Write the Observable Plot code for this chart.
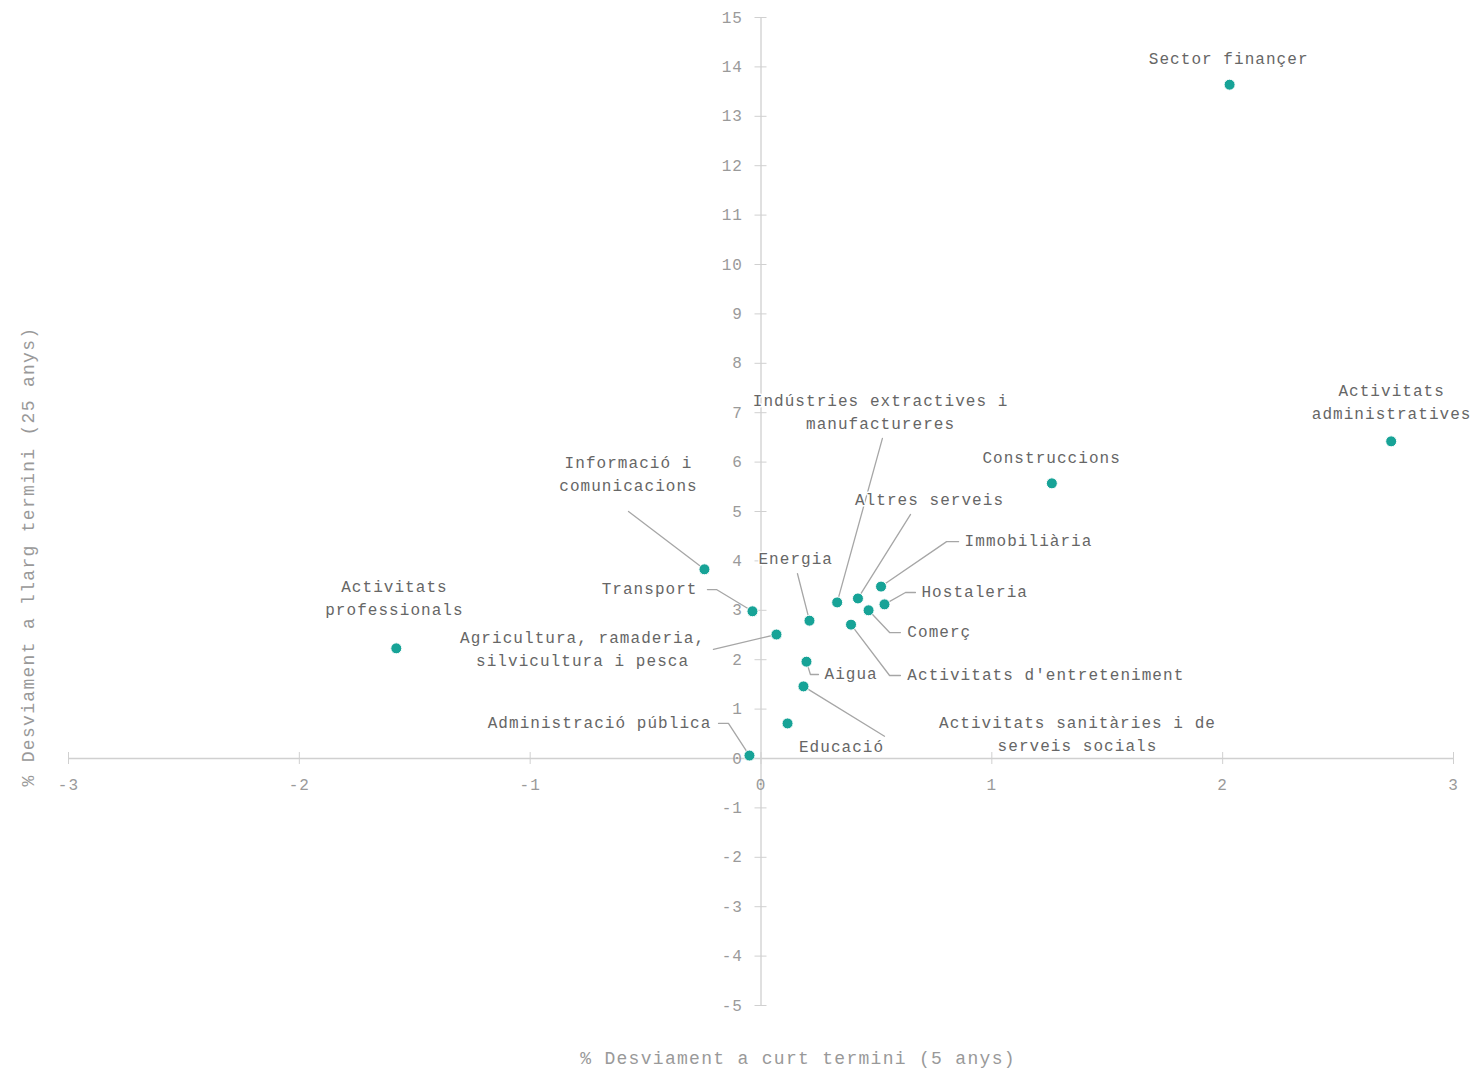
<!DOCTYPE html>
<html><head><meta charset="utf-8">
<script src="https://cdn.jsdelivr.net/npm/d3@7"></script>
<script src="https://cdn.jsdelivr.net/npm/@observablehq/plot@0.6"></script>
<style>
body{margin:0;background:#fff}
#chart{width:1476px;height:1073px}
#chart svg text{letter-spacing:1.05px}
#chart svg g.titles text{letter-spacing:1.3px}
</style>
</head><body><div id="chart"></div>
<script>
// ---- data ----
const sectors = [
  "Sector finançer", "Activitats administratives", "Construccions",
  "Informació i comunicacions", "Activitats professionals", "Transport",
  "Agricultura, ramaderia, silvicultura i pesca", "Energia",
  "Indústries extractives i manufactureres", "Altres serveis", "Immobiliària",
  "Hostaleria", "Comerç", "Activitats d'entreteniment", "Aigua",
  "Activitats sanitàries i de serveis socials", "Educació", "Administració pública"
];
const shortTerm = [2.03, 2.73, 1.26, -0.245, -1.58, -0.037, 0.067, 0.21, 0.33, 0.42, 0.52, 0.535, 0.466, 0.39, 0.197, 0.184, 0.115, -0.05];
const longTerm  = [13.64, 6.42, 5.57, 3.83, 2.23, 2.98, 2.51, 2.79, 3.16, 3.24, 3.48, 3.12, 3.0, 2.71, 1.96, 1.46, 0.71, 0.06];
const xTicks = [-3, -2, -1, 0, 1, 2, 3];
const yTicks = [-5, -4, -3, -2, -1, 0, 1, 2, 3, 4, 5, 6, 7, 8, 9, 10, 11, 12, 13, 14, 15];

// ---- annotation placement (data units) ----
const labelText = [
  "Sector finançer", "Activitats\nadministratives", "Construccions",
  "Informació i\ncomunicacions", "Activitats\nprofessionals", "Transport",
  "Agricultura, ramaderia,\nsilvicultura i pesca", "Energia",
  "Indústries extractives i\nmanufactureres", "Altres serveis", "Immobiliària",
  "Hostaleria", "Comerç", "Activitats d'entreteniment", "Aigua",
  "Activitats sanitàries i de\nserveis socials", "Educació", "Administració pública"
];
const labelX = [2.026, 2.732, 1.259, -0.574, -1.588, -0.275, -0.773, -0.011, 0.518, 0.730, 0.882, 0.695, 0.634, 0.634, 0.275, 1.371, 0.349, -0.215];
const labelY = [14.15, 7.20, 6.07, 5.74, 3.23, 3.42, 2.20, 4.03, 6.99, 5.22, 4.39, 3.36, 2.55, 1.68, 1.70, 0.466, 0.22, 0.71];
const labelAnchor = ["middle","middle","middle","middle","middle","end","middle","start","middle","middle","start","start","start","start","start","middle","middle","end"];
// leader lines: [sector index, x-start, y-start, x-elbow, y-elbow] (elbow null = straight)
const leaders = [
  [3, -0.574, 5.00, null, null],
  [5, -0.232, 3.42, -0.193, 3.42],
  [6, -0.206, 2.21, null, null],
  [7, 0.158, 3.74, null, null],
  [8, 0.526, 6.48, null, null],
  [9, 0.648, 4.94, null, null],
  [10, 0.856, 4.39, 0.804, 4.39],
  [11, 0.669, 3.36, 0.626, 3.36],
  [12, 0.604, 2.55, 0.557, 2.55],
  [13, 0.604, 1.68, 0.557, 1.68],
  [14, 0.249, 1.70, 0.214, 1.70],
  [15, 0.535, 0.45, null, null],
  [17, -0.184, 0.71, -0.141, 0.71]
];

const leaderPts = [];
leaders.forEach(([i, sx, sy, ex, ey]) => {
  leaderPts.push({id: i, x: sx, y: sy});
  if (ex !== null) leaderPts.push({id: i, x: ex, y: ey});
  leaderPts.push({id: i, x: shortTerm[i], y: longTerm[i]});
});

const idx = sectors.map((_, i) => i);
const mono = "'Liberation Mono', 'DejaVu Sans Mono', monospace";
const axisColor = "#d0d0d0";

const labelMark = anchor => Plot.text(idx.filter(i => labelAnchor[i] === anchor), {
  x: i => labelX[i], y: i => labelY[i], text: i => labelText[i],
  textAnchor: anchor, dy: -3,
  fill: "#666", fontSize: 16, lineHeight: 1.45, stroke: "#fff", strokeWidth: 3
});

const chart = Plot.plot({
  width: 1476, height: 1073,
  marginLeft: 68, marginRight: 23, marginTop: 17, marginBottom: 68,
  x: {domain: [-3, 3], axis: null},
  y: {domain: [-5, 15], axis: null},
  style: {fontFamily: mono, background: "#fff"},
  marks: [
    Plot.ruleY([0], {x1: -3, x2: 3, stroke: axisColor, strokeWidth: 1.3}),
    Plot.ruleX([0], {y1: -5, y2: 15, stroke: axisColor, strokeWidth: 1.3}),
    Plot.ruleY(yTicks, {y: d => d, x1: 0, x2: 0, insetLeft: -6, insetRight: -6, stroke: axisColor}),
    Plot.ruleX(xTicks, {x: d => d, y1: 0, y2: 0, insetTop: -6, insetBottom: -6, stroke: axisColor}),
    Plot.text(yTicks, {x: 0, y: d => d, text: d => String(d), dx: -18, textAnchor: "end", fill: "#9a9a9a", fontSize: 16}),
    Plot.text(xTicks, {x: d => d, y: 0, text: d => String(d), dy: 26, fill: "#9a9a9a", fontSize: 16}),
    Plot.line(leaderPts, {x: "x", y: "y", z: "id", stroke: "#a6a6a6", strokeWidth: 1.3}),
    Plot.dot(idx, {x: i => shortTerm[i], y: i => longTerm[i], r: 5.5, fill: "#17a397", stroke: "#fff", strokeWidth: 1}),
    labelMark("middle"), labelMark("start"), labelMark("end"),
    Plot.text(["% Desviament a curt termini (5 anys)"], {frameAnchor: "bottom", textAnchor: "middle", dx: 37, dy: 58, fill: "#999", fontSize: 18}),
    Plot.text(["% Desviament a llarg termini (25 anys)"], {frameAnchor: "left", textAnchor: "middle", rotate: -90, dx: -40, dy: 45, fill: "#999", fontSize: 18})
  ]
});
document.getElementById("chart").appendChild(chart);
// tag the two axis-title groups (last two marks) for styling
const groups = chart.querySelectorAll(":scope > g");
groups[groups.length - 1].classList.add("titles");
groups[groups.length - 2].classList.add("titles");
</script></body></html>
